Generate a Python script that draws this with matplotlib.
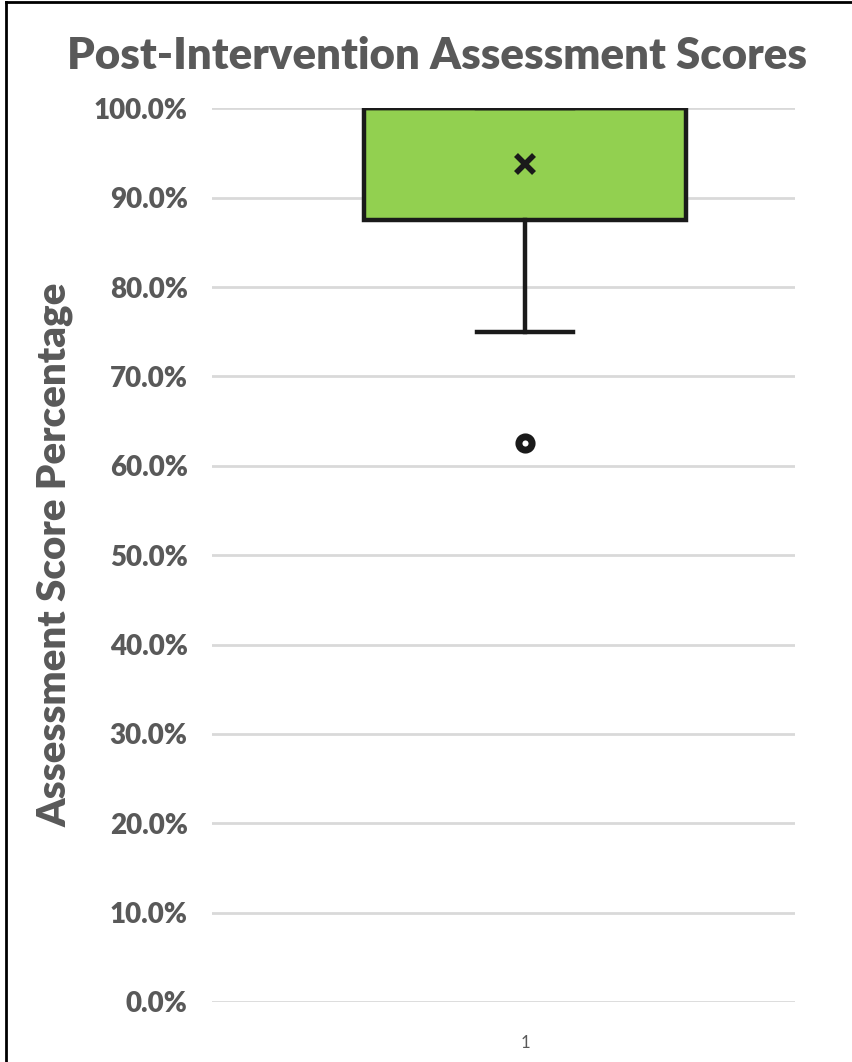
import matplotlib
matplotlib.use("Agg")
import matplotlib.pyplot as plt
from matplotlib.lines import Line2D
from matplotlib.ticker import FuncFormatter

# Data (percent)
categories = ["1"]
q1_vals = [87.5]
median_vals = [100.0]
q3_vals = [100.0]
whisker_low = [75.0]
whisker_high = [100.0]
mean_vals = [93.75]
outliers = [[62.5]]
yticks = [0, 10, 20, 30, 40, 50, 60, 70, 80, 90, 100]

plt.rcParams['font.family'] = ['Lato', 'DejaVu Sans']

fig = plt.figure(figsize=(8.53, 10.62), dpi=100)
ax = fig.add_axes([0.2485, 0.0565, 0.6835, 0.8415])

stats = []
for i, c in enumerate(categories):
    stats.append(dict(label=c, med=median_vals[i], q1=q1_vals[i], q3=q3_vals[i],
                      whislo=whisker_low[i], whishi=whisker_high[i],
                      mean=mean_vals[i], fliers=outliers[i]))

ax.bxp(stats, positions=[1], widths=0.552, patch_artist=True, showmeans=True,
       boxprops=dict(facecolor='#92D050', edgecolor='#1a1a1a', linewidth=3.2),
       medianprops=dict(color='#1a1a1a', linewidth=3.2),
       whiskerprops=dict(color='#1a1a1a', linewidth=3.2),
       capprops=dict(color='#1a1a1a', linewidth=3.2),
       capwidths=0.165,
       meanprops=dict(marker='x', markeredgecolor='#1a1a1a', markersize=13, markeredgewidth=4),
       flierprops=dict(marker='o', markerfacecolor='white', markeredgecolor='#1a1a1a',
                       markersize=9.5, markeredgewidth=5))

ax.set_ylim(0, 100)
ax.set_xlim(1 - 313/583, 1 + 270/583)
ax.set_yticks(yticks)
ax.yaxis.set_major_formatter(FuncFormatter(lambda v, p: f"{v:.1f}%"))
ax.grid(axis='y', color='#d9d9d9', linewidth=2)
ax.set_axisbelow(True)
for s in ax.spines.values():
    s.set_visible(False)
ax.tick_params(axis='y', length=0, pad=17.5, labelsize=20, labelcolor='#595959')
for lab in ax.get_yticklabels():
    lab.set_fontweight('heavy')
ax.tick_params(axis='x', length=0, pad=24, labelsize=12, labelcolor='#595959')

ax.set_ylabel("Assessment Score Percentage", fontsize=29, fontweight='heavy', color='#595959')
ax.yaxis.set_label_coords(-0.237, 0.5)

fig.text(0.512, 0.947, "Post-Intervention Assessment Scores", ha='center', va='center',
         fontsize=31.5, fontweight='heavy', color='#595959')

# figure border (left and top)
fig.add_artist(Line2D([0.007, 0.007], [0, 0.998], transform=fig.transFigure, color='black', linewidth=2))
fig.add_artist(Line2D([0.007, 1.0], [0.998, 0.998], transform=fig.transFigure, color='black', linewidth=2))

fig.savefig("out.png", dpi=100)
